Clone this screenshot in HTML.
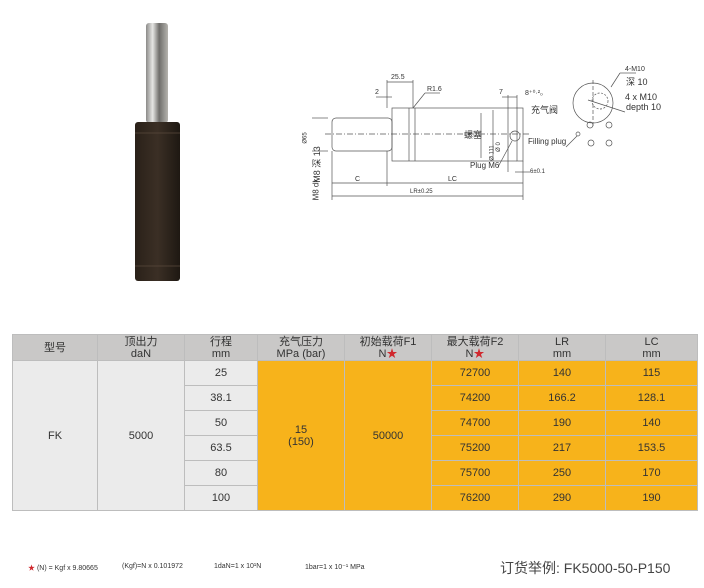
<!DOCTYPE html>
<html><head><meta charset="utf-8"><style>
body{margin:0;width:704px;height:588px;background:#fff;position:relative;overflow:hidden;font-family:"Liberation Sans","Noto Sans CJK SC",sans-serif;}
table{position:absolute;left:12px;top:334px;border-collapse:collapse;font-size:11px;color:#333;}
td{border:1px solid #bdbdbd;text-align:center;padding:0;line-height:12px;}
.h td{background:#c9c8c7;height:25px;color:#333;}
.g{background:#ebebeb;}
.o{background:#f7b31b;}
.r td{height:24px;}
.r{height:25px;}
.s{color:#d0282e;}
.t{position:absolute;font-size:7px;color:#333;white-space:nowrap;}
</style></head><body>
<svg width="704" height="300" style="position:absolute;left:0;top:0">
<defs><linearGradient id="rod" x1="0" x2="1"><stop offset="0" stop-color="#8b8a88"/><stop offset=".3" stop-color="#e6e6e4"/><stop offset=".6" stop-color="#6f6e6b"/><stop offset="1" stop-color="#b5b3ae"/></linearGradient>
<linearGradient id="bd" x1="0" x2="1"><stop offset="0" stop-color="#2a2119"/><stop offset=".5" stop-color="#3b2f25"/><stop offset="1" stop-color="#1e1812"/></linearGradient></defs>
<rect x="146" y="23" width="22" height="100" rx="3" fill="url(#rod)"/>
<rect x="135" y="122" width="45" height="159" rx="3" fill="url(#bd)"/>
<line x1="135" y1="133" x2="180" y2="133" stroke="#5a4a3c" stroke-width=".7"/>
<line x1="135" y1="266" x2="180" y2="266" stroke="#5a4a3c" stroke-width=".7"/>
<g fill="none" stroke="#555" stroke-width=".7">
<rect x="332" y="118" width="60" height="33" rx="4"/>
<rect x="392" y="108" width="116" height="53"/>
<line x1="409" y1="108" x2="409" y2="161"/><line x1="415" y1="108" x2="415" y2="161"/>
<rect x="517" y="108" width="6" height="53"/>
<line x1="508" y1="108" x2="517" y2="108"/><line x1="508" y1="161" x2="517" y2="161"/>
<line x1="325" y1="134" x2="530" y2="134" stroke-dasharray="6 2 1 2"/>
<circle cx="515" cy="136" r="5"/>
<line x1="332" y1="151" x2="332" y2="200"/><line x1="387" y1="151" x2="387" y2="186"/><line x1="523" y1="161" x2="523" y2="200"/><line x1="508" y1="161" x2="508" y2="172"/>
<line x1="332" y1="183" x2="523" y2="183"/><line x1="332" y1="196" x2="523" y2="196"/>
<line x1="387" y1="80" x2="387" y2="108"/><line x1="413" y1="80" x2="413" y2="108"/><line x1="387" y1="82" x2="413" y2="82"/>
<line x1="376" y1="97" x2="392" y2="97"/>
<line x1="508" y1="95" x2="508" y2="108"/><line x1="517" y1="95" x2="517" y2="108"/><line x1="502" y1="97" x2="517" y2="97"/>
<line x1="493" y1="110" x2="493" y2="160"/><line x1="481" y1="113" x2="481" y2="158"/>
<line x1="312" y1="118" x2="328" y2="118"/><line x1="312" y1="151" x2="328" y2="151"/>
<line x1="413" y1="108" x2="425" y2="93"/><line x1="425" y1="93" x2="440" y2="93"/>
<line x1="512" y1="141" x2="498" y2="167"/>
<line x1="515" y1="172" x2="530" y2="172"/>
<circle cx="593" cy="103" r="20"/>
<circle cx="600" cy="101" r="8" stroke-dasharray="2 1.5"/>
<line x1="593" y1="80" x2="593" y2="126" stroke-dasharray="4 2"/>
<line x1="588" y1="100" x2="625" y2="112"/>
<circle cx="590" cy="125" r="3"/><circle cx="609" cy="125" r="3"/>
<circle cx="591" cy="143" r="3"/><circle cx="609" cy="143" r="3"/>
<circle cx="578" cy="134" r="2"/>
<line x1="577" y1="136" x2="566" y2="147"/>
<line x1="611" y1="87" x2="620" y2="73"/><line x1="620" y1="73" x2="636" y2="73"/>
</g>
</svg>
<div class="t" style="left:391px;top:74px">25.5</div>
<div class="t" style="left:375px;top:89px">2</div>
<div class="t" style="left:427px;top:86px">R1.6</div>
<div class="t" style="left:499px;top:89px">7</div>
<div class="t" style="left:525px;top:89px">8⁺⁰·²₀</div>
<div class="t" style="left:531px;top:103px;font-size:9px">充气阀</div>
<div class="t" style="left:464px;top:128px;font-size:9px">螺塞</div>
<div class="t" style="left:528px;top:137px;font-size:8px">Filling plug</div>
<div class="t" style="left:470px;top:161px;font-size:8px">Plug M6</div>
<div class="t" style="left:530px;top:169px;font-size:6px">6±0.1</div>
<div class="t" style="left:355px;top:176px">C</div>
<div class="t" style="left:448px;top:176px">LC</div>
<div class="t" style="left:410px;top:189px;font-size:6px">LR±0.25</div>
<div class="t" style="left:625px;top:66px;font-size:7px">4-M10</div>
<div class="t" style="left:626px;top:75px;font-size:9px">深 10</div>
<div class="t" style="left:625px;top:92px;font-size:9px">4 x M10</div>
<div class="t" style="left:626px;top:102px;font-size:9px">depth 10</div>
<div class="t" style="left:300px;top:135px;transform:rotate(-90deg);font-size:6px">Ø65</div>
<div class="t" style="left:298px;top:158px;transform:rotate(-90deg);font-size:9px">M8 深 13</div>
<div class="t" style="left:305px;top:185px;transform:rotate(-90deg);font-size:8px">M8 dk</div>
<div class="t" style="left:485px;top:150px;transform:rotate(-90deg);font-size:6px">Ø 111</div>
<div class="t" style="left:494px;top:144px;transform:rotate(-90deg);font-size:6px">Ø 0</div>
<table>
<tr class="h"><td style="width:84px">型号</td><td style="width:86px">顶出力<br>daN</td><td style="width:72px">行程<br>mm</td><td style="width:86px">充气压力<br>MPa (bar)</td><td style="width:86px">初始载荷F1<br>N<span class="s">★</span></td><td style="width:86px">最大载荷F2<br>N<span class="s">★</span></td><td style="width:86px">LR<br>mm</td><td style="width:91px">LC<br>mm</td></tr>
<tr class="r"><td rowspan="6" class="g">FK</td><td rowspan="6" class="g">5000</td><td class="g">25</td><td rowspan="6" class="o">15<br>(150)</td><td rowspan="6" class="o">50000</td><td class="o">72700</td><td class="o">140</td><td class="o">115</td></tr>
<tr class="r"><td class="g">38.1</td><td class="o">74200</td><td class="o">166.2</td><td class="o">128.1</td></tr>
<tr class="r"><td class="g">50</td><td class="o">74700</td><td class="o">190</td><td class="o">140</td></tr>
<tr class="r"><td class="g">63.5</td><td class="o">75200</td><td class="o">217</td><td class="o">153.5</td></tr>
<tr class="r"><td class="g">80</td><td class="o">75700</td><td class="o">250</td><td class="o">170</td></tr>
<tr class="r"><td class="g">100</td><td class="o">76200</td><td class="o">290</td><td class="o">190</td></tr>
</table>
<div class="t" style="left:28px;top:563px;font-size:7px"><span class="s">★</span> (N) = Kgf x 9.80665</div>
<div class="t" style="left:122px;top:563px;font-size:7px">(Kgf)=N x 0.101972</div>
<div class="t" style="left:214px;top:563px;font-size:7px">1daN=1 x 10¹N</div>
<div class="t" style="left:305px;top:563px;font-size:7px">1bar=1 x 10⁻¹ MPa</div>
<div class="t" style="left:500px;top:558px;font-size:14px;color:#444">订货举例:  FK5000-50-P150</div>
</body></html>
